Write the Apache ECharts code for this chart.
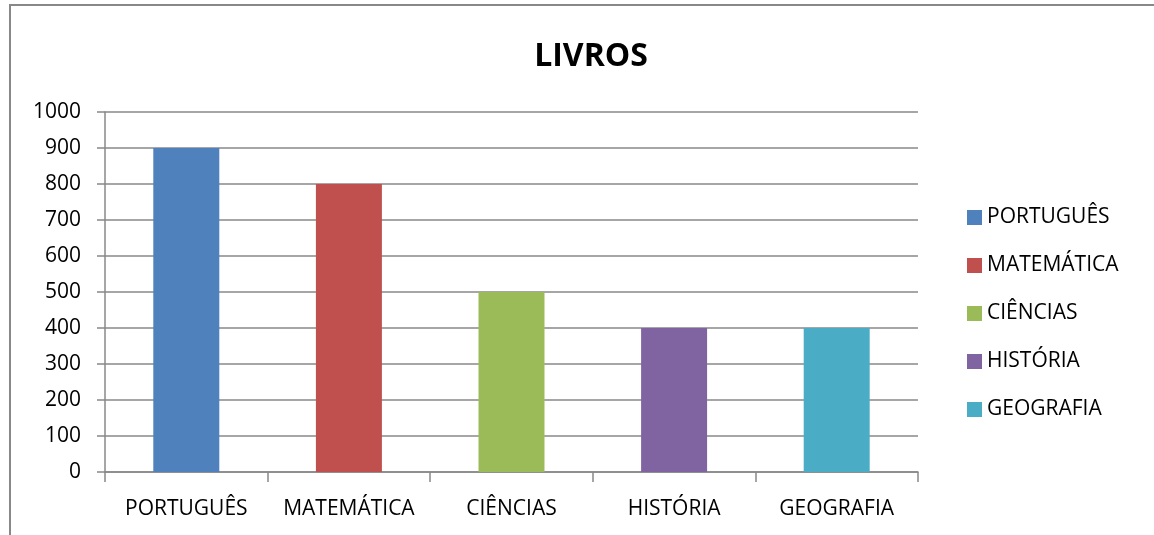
<!DOCTYPE html>
<html>
<head>
<meta charset="utf-8">
<script src="https://cdn.jsdelivr.net/npm/echarts@6/dist/echarts.min.js"></script>
<style>
html, body { margin: 0; padding: 0; background: #fff; }
#main { width: 1154px; height: 535px; }
</style>
</head>
<body>
<div id="main"></div>
<script>
var categories = ['PORTUGUÊS', 'MATEMÁTICA', 'CIÊNCIAS', 'HISTÓRIA', 'GEOGRAFIA'];
var values = [900, 800, 500, 400, 400];
var colors = ['#4F81BD', '#C0504D', '#9BBB59', '#8064A2', '#4BACC6'];

var myChart = echarts.init(document.getElementById('main'));

// one series per subject so the legend lists them, stacked to stay centered
var series = categories.map(function (name, i) {
    return {
        name: name,
        type: 'bar',
        stack: 'total',
        barWidth: 66,
        itemStyle: { color: colors[i] },
        data: categories.map(function (c, j) { return j === i ? values[i] : '-'; })
    };
});

var font = '"Open Sans", sans-serif';

option = {
    animation: false,
    title: {
        text: 'LIVROS',
        left: 586,
        top: 36,
        textAlign: 'center',
        textStyle: { fontFamily: font, fontSize: 32, fontWeight: 'bold', color: '#000', lineHeight: 32 }
    },
    graphic: [{
        type: 'rect',
        shape: { x: 10, y: 5, width: 1160, height: 545 },
        style: { fill: 'none', stroke: '#888', lineWidth: 2 }
    }],
    legend: {
        orient: 'vertical',
        left: 962,
        top: 202,
        icon: 'rect',
        itemWidth: 15,
        itemHeight: 15,
        itemGap: 27,
        data: categories,
        textStyle: { fontFamily: font, fontSize: 21, color: '#000', lineHeight: 21 }
    },
    grid: { left: 105, right: 236, top: 112, bottom: 63 },
    xAxis: {
        type: 'category',
        data: categories,
        axisLine: { lineStyle: { color: '#888', width: 1.5 } },
        axisTick: { show: true, interval: 0, length: 10, lineStyle: { color: '#888', width: 1.5 } },
        axisLabel: { interval: 0, fontFamily: font, fontSize: 21, color: '#000', margin: 27 }
    },
    yAxis: {
        type: 'value',
        min: 0,
        max: 1000,
        interval: 100,
        axisLine: { show: true, lineStyle: { color: '#888', width: 1.5 } },
        axisTick: { show: true, length: 8, lineStyle: { color: '#888', width: 1.5 } },
        axisLabel: {
            fontFamily: font, fontSize: 21, color: '#000', margin: 24,
            formatter: function (v) { return String(v); }
        },
        splitLine: { lineStyle: { color: '#888', width: 1.5 } }
    },
    series: series
};

myChart.setOption(option);
</script>
</body>
</html>
